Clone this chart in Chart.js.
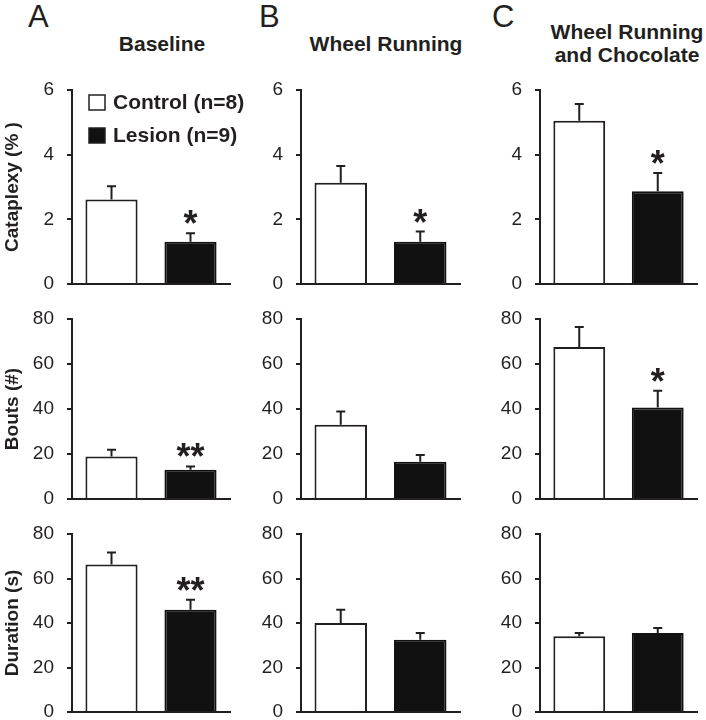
<!DOCTYPE html>
<html lang="en">
<head>
  <meta charset="UTF-8">
  <title>Cataplexy, bouts and duration</title>
  <script src="https://cdn.jsdelivr.net/npm/chart.js"></script>
  <style>
    body { margin: 0; padding: 0; background: #fff; font-family: "Liberation Sans", Arial, sans-serif; color: #231f20; }
    #figura { position: relative; width: 706px; height: 720px; overflow: hidden; }
    #figura canvas { position: absolute; }
    .letra { position: absolute; font-size: 31px; line-height: 31px; }
    .titulo { position: absolute; font-size: 21px; font-weight: bold; line-height: 23px; text-align: center; transform: translateX(-50%); white-space: nowrap; }
  </style>
</head>
<body>
  <div id="figura">
    <div class="letra" style="left:28px; top:1px;">A</div>
    <div class="letra" style="left:259px; top:1px;">B</div>
    <div class="letra" style="left:492px; top:1px;">C</div>
  </div>

  <script>
    // dados (media e erro padrao)
    const conditions = ['Baseline', 'Wheel Running', 'Wheel Running|and Chocolate'];
    const measures = ['Cataplexy (% )', 'Bouts (#)', 'Duration (s)'];
    const groups = ['Control (n=8)', 'Lesion (n=9)'];
    const yMax = [6, 80, 80];
    const yStep = [2, 20, 20];

    const controlCataplexy = [2.61, 3.13, 5.05];
    const controlCataplexySem = [0.41, 0.52, 0.52];
    const lesionCataplexy = [1.31, 1.31, 2.87];
    const lesionCataplexySem = [0.26, 0.31, 0.56];

    const controlBouts = [18.9, 33.0, 67.6];
    const controlBoutsSem = [3.0, 5.9, 8.8];
    const lesionBouts = [13.0, 16.6, 40.7];
    const lesionBoutsSem = [1.5, 3.0, 7.4];

    const controlDuration = [66.3, 40.0, 34.0];
    const controlDurationSem = [5.4, 6.0, 1.5];
    const lesionDuration = [46.0, 32.5, 35.5];
    const lesionDurationSem = [4.5, 3.0, 2.3];

    const cataplexyStars = ['*', '*', '*'];
    const boutsStars = ['**', '', '*'];
    const durationStars = ['**', '', ''];

    const controls = [controlCataplexy, controlBouts, controlDuration];
    const controlSems = [controlCataplexySem, controlBoutsSem, controlDurationSem];
    const lesions = [lesionCataplexy, lesionBouts, lesionDuration];
    const lesionSems = [lesionCataplexySem, lesionBoutsSem, lesionDurationSem];
    const stars = [cataplexyStars, boutsStars, durationStars];

    // posicao dos paineis na figura
    const axisX = [72, 301, 540];
    const rightX = [230, 460, 697];
    const padRight = [36, 8, 8];
    const rowTop = [90, 319, 534];
    const rowBottom = [284, 499, 712];
    const titleX = [162, 386, 627];
    const titleTop = [[32], [32], [20, 43]];

    const FONT = '"Liberation Sans", Arial, sans-serif';
    const INK = '#231f20';

    const figura = document.getElementById('figura');

    conditions.forEach((c, i) => {
      c.split('|').forEach((linha, k) => {
        const d = document.createElement('div');
        d.className = 'titulo';
        d.style.left = titleX[i] + 'px';
        d.style.top = titleTop[i][k] + 'px';
        d.textContent = linha;
        figura.appendChild(d);
      });
    });

    const errorBars = {
      id: 'errorBars',
      afterDatasetsDraw(chart, args, opts) {
        const ctx = chart.ctx;
        const y = chart.scales.y;
        ctx.save();
        ctx.strokeStyle = INK;
        ctx.lineWidth = 2;
        chart.data.datasets.forEach((ds, di) => {
          const meta = chart.getDatasetMeta(di);
          meta.data.forEach((bar, j) => {
            const top = y.getPixelForValue(ds.data[j] + ds.sem[j]);
            ctx.beginPath();
            ctx.moveTo(bar.x, bar.y);
            ctx.lineTo(bar.x, top);
            ctx.moveTo(bar.x - 4.5, top);
            ctx.lineTo(bar.x + 4.5, top);
            ctx.stroke();
            if (ds.star && ds.star[j]) {
              ctx.fillStyle = INK;
              ctx.font = 'bold 36px ' + FONT;
              ctx.textAlign = 'center';
              ctx.textBaseline = 'alphabetic';
              ctx.fillText(ds.star[j], bar.x, top + 3);
            }
          });
        });
        ctx.restore();
      }
    };

    const legendaInterna = {
      id: 'legendaInterna',
      afterDraw(chart, args, opts) {
        if (!opts.show) return;
        const ctx = chart.ctx;
        const a = chart.chartArea;
        ctx.save();
        ctx.font = 'bold 21px ' + FONT;
        ctx.textBaseline = 'middle';
        ctx.textAlign = 'left';
        chart.data.datasets.forEach((ds, i) => {
          const bx = a.left + 17;
          const by = a.top + 5 + i * 33;
          ctx.fillStyle = ds.backgroundColor;
          ctx.fillRect(bx, by, 16, 15);
          ctx.strokeStyle = INK;
          ctx.lineWidth = 1.5;
          ctx.strokeRect(bx, by, 16, 15);
          ctx.fillStyle = INK;
          ctx.fillText(ds.label, bx + 24, by + 8);
        });
        ctx.restore();
      }
    };

    for (let r = 0; r < 3; r++) {
      for (let c = 0; c < 3; c++) {
        const left = c === 0 ? 0 : axisX[c] - 62;
        const top = rowTop[r] - 20;
        const w = rightX[c] - left + padRight[c];
        const h = rowBottom[r] - rowTop[r] + 28;
        const canvas = document.createElement('canvas');
        canvas.width = w;
        canvas.height = h;
        canvas.style.left = left + 'px';
        canvas.style.top = top + 'px';
        figura.appendChild(canvas);
        const yWidth = axisX[c] - left;

        new Chart(canvas, {
          type: 'bar',
          data: {
            labels: [''],
            datasets: [
              {
                label: groups[0],
                data: [controls[r][c]],
                sem: [controlSems[r][c]],
                backgroundColor: '#ffffff',
                borderColor: INK,
                borderWidth: 2
              },
              {
                label: groups[1],
                data: [lesions[r][c]],
                sem: [lesionSems[r][c]],
                star: [stars[r][c]],
                backgroundColor: '#111111',
                borderColor: '#111111',
                borderWidth: 2
              }
            ]
          },
          options: {
            responsive: false,
            animation: false,
            events: [],
            layout: { padding: { top: 20, bottom: 8, left: 0, right: padRight[c] } },
            datasets: { bar: { barPercentage: 0.66, categoryPercentage: 1.0, borderSkipped: 'bottom' } },
            plugins: {
              legend: { display: false },
              tooltip: { enabled: false },
              legendaInterna: { show: r === 0 && c === 0 }
            },
            scales: {
              x: {
                ticks: { display: false },
                grid: { display: true, drawOnChartArea: false, drawTicks: false },
                border: { display: true, color: INK, width: 2 },
                afterFit: s => {
                  s.height = 0;
                  s.paddingLeft = 0; s.paddingRight = 0;
                }
              },
              y: {
                min: 0,
                max: yMax[r],
                ticks: {
                  stepSize: yStep[r],
                  padding: 13,
                  color: INK,
                  font: { family: FONT, size: 19 }
                },
                grid: { drawOnChartArea: false, drawTicks: true, tickLength: 5, color: INK, lineWidth: 2 },
                border: { display: true, color: INK, width: 2 },
                title: {
                  display: c === 0,
                  text: measures[r],
                  color: INK,
                  padding: { top: 1, bottom: 0 },
                  font: { family: FONT, size: 19, weight: 'bold' }
                },
                afterFit: s => {
                  s.width = yWidth;
                  s.paddingTop = 0; s.paddingBottom = 0;
                }
              }
            }
          },
          plugins: [errorBars, legendaInterna]
        });
      }
    }
  </script>
</body>
</html>
